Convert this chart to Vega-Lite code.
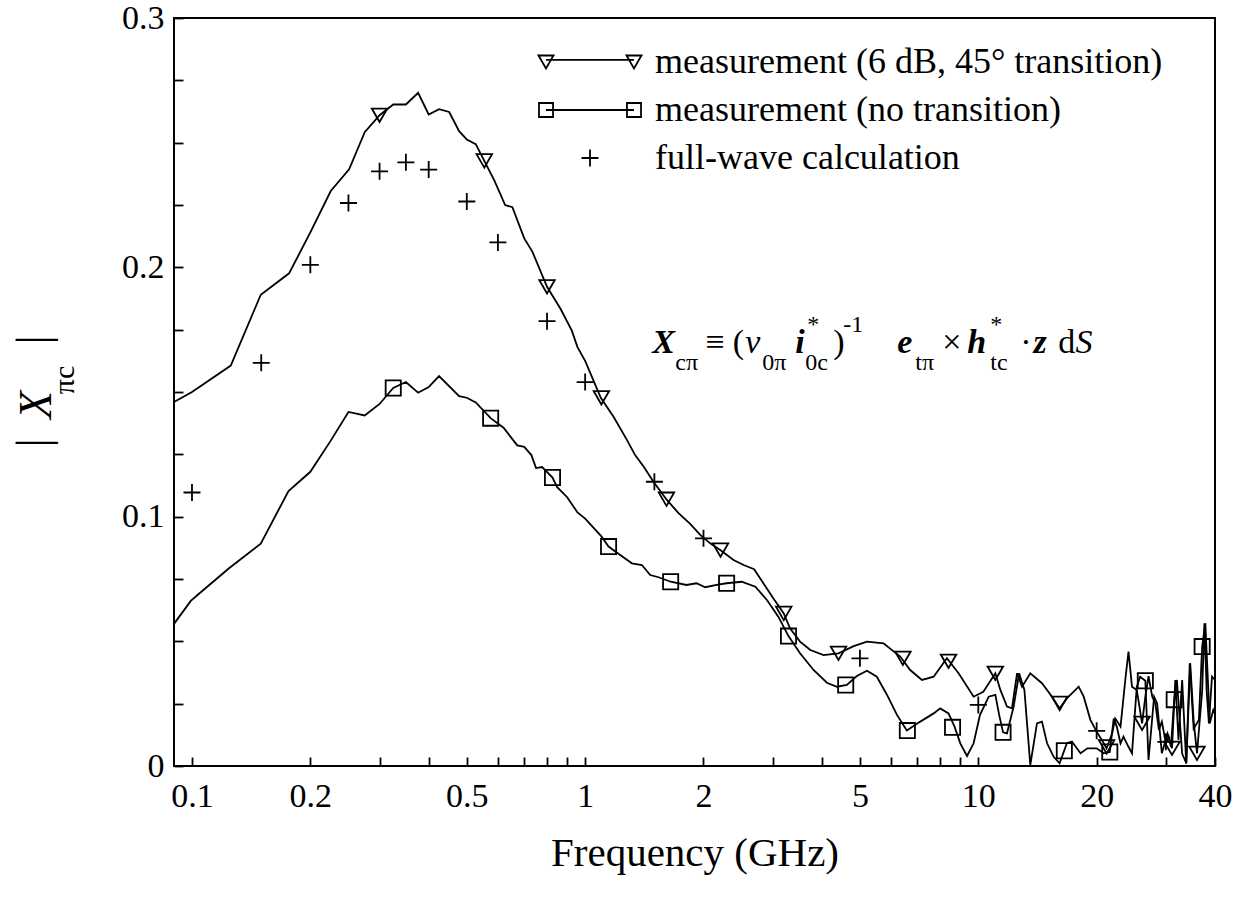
{
  "$schema": "https://vega.github.io/schema/vega-lite/v6.json",
  "width": 1041,
  "height": 748,
  "autosize": "none",
  "padding": {"left": 174, "top": 18, "right": 31, "bottom": 137},
  "background": "white",
  "config": {"view": {"stroke": "black", "strokeWidth": 2}, "font": "Liberation Serif, Times New Roman, DejaVu Serif, serif"},
  "datasets": {
    "curves": [
      {"s":"T","f":0.09,"v":0.146},{"s":"T","f":0.1,"v":0.150},{"s":"T","f":0.1255,"v":0.1606},{"s":"T","f":0.1496,"v":0.189},{"s":"T","f":0.1766,"v":0.1976},{"s":"T","f":0.2,"v":0.214},{"s":"T","f":0.2254,"v":0.2306},{"s":"T","f":0.251,"v":0.2393},{"s":"T","f":0.275,"v":0.2542},{"s":"T","f":0.3,"v":0.261},{"s":"T","f":0.325,"v":0.2653},{"s":"T","f":0.35,"v":0.2653},{"s":"T","f":0.376,"v":0.270},{"s":"T","f":0.4,"v":0.2613},{"s":"T","f":0.425,"v":0.2634},{"s":"T","f":0.451,"v":0.2623},{"s":"T","f":0.478,"v":0.2546},{"s":"T","f":0.5,"v":0.2513},{"s":"T","f":0.527,"v":0.2494},{"s":"T","f":0.554,"v":0.2427},{"s":"T","f":0.587,"v":0.235},{"s":"T","f":0.626,"v":0.225},{"s":"T","f":0.653,"v":0.2241},{"s":"T","f":0.7,"v":0.2116},{"s":"T","f":0.734,"v":0.2063},{"s":"T","f":0.8,"v":0.1922},{"s":"T","f":0.867,"v":0.1832},{"s":"T","f":0.925,"v":0.1746},{"s":"T","f":0.956,"v":0.168},{"s":"T","f":1.0,"v":0.1625},{"s":"T","f":1.096,"v":0.1477},{"s":"T","f":1.181,"v":0.1401},{"s":"T","f":1.277,"v":0.1308},{"s":"T","f":1.34,"v":0.1247},{"s":"T","f":1.408,"v":0.1201},{"s":"T","f":1.492,"v":0.114},{"s":"T","f":1.614,"v":0.1067},{"s":"T","f":1.728,"v":0.1014},{"s":"T","f":1.85,"v":0.0971},{"s":"T","f":1.962,"v":0.0927},{"s":"T","f":2.08,"v":0.0893},{"s":"T","f":2.206,"v":0.0866},{"s":"T","f":2.385,"v":0.0826},{"s":"T","f":2.53,"v":0.0806},{"s":"T","f":2.69,"v":0.0789},{"s":"T","f":2.84,"v":0.0733},{"s":"T","f":3.01,"v":0.0673},{"s":"T","f":3.2,"v":0.0612},{"s":"T","f":3.32,"v":0.0552},{"s":"T","f":3.52,"v":0.0499},{"s":"T","f":3.74,"v":0.0465},{"s":"T","f":4.04,"v":0.0445},{"s":"T","f":4.41,"v":0.0452},{"s":"T","f":4.82,"v":0.0481},{"s":"T","f":5.21,"v":0.0499},{"s":"T","f":5.74,"v":0.0492},{"s":"T","f":6.33,"v":0.0439},{"s":"T","f":6.71,"v":0.0385},{"s":"T","f":7.19,"v":0.0345},{"s":"T","f":7.7,"v":0.0358},{"s":"T","f":8.32,"v":0.0432},{"s":"T","f":8.91,"v":0.0372},{"s":"T","f":9.73,"v":0.0278},{"s":"T","f":10.3,"v":0.0298},{"s":"T","f":11.05,"v":0.0372},{"s":"T","f":11.38,"v":0.0305},{"s":"T","f":11.83,"v":0.0238},{"s":"T","f":12.18,"v":0.0231},{"s":"T","f":12.55,"v":0.0372},{"s":"T","f":12.92,"v":0.0318},{"s":"T","f":13.56,"v":0.0372},{"s":"T","f":14.52,"v":0.0332},{"s":"T","f":15.4,"v":0.0278},{"s":"T","f":16.1,"v":0.0231},{"s":"T","f":16.8,"v":0.0271},{"s":"T","f":18.0,"v":0.0318},{"s":"T","f":18.54,"v":0.0278},{"s":"T","f":19.28,"v":0.0185},{"s":"T","f":20.0,"v":0.0138},{"s":"T","f":20.85,"v":0.0091},{"s":"T","f":21.2,"v":0.0071},{"s":"T","f":21.9,"v":0.0131},{"s":"T","f":22.3,"v":0.019},{"s":"T","f":23.0,"v":0.0158},{"s":"T","f":23.7,"v":0.0358},{"s":"T","f":24.1,"v":0.0459},{"s":"T","f":24.6,"v":0.0318},{"s":"T","f":25.3,"v":0.0305},{"s":"T","f":26.1,"v":0.0171},{"s":"T","f":26.6,"v":0.0278},{"s":"T","f":27.1,"v":0.036},{"s":"T","f":27.7,"v":0.0278},{"s":"T","f":28.2,"v":0.0251},{"s":"T","f":28.8,"v":0.0145},{"s":"T","f":29.3,"v":0.0178},{"s":"T","f":30.0,"v":0.0091},{"s":"T","f":30.5,"v":0.0118},{"s":"T","f":31.1,"v":0.0071},{"s":"T","f":31.7,"v":0.0345},{"s":"T","f":32.3,"v":0.0104},{"s":"T","f":33.0,"v":0.0345},{"s":"T","f":33.8,"v":0.001},{"s":"T","f":34.6,"v":0.0412},{"s":"T","f":35.3,"v":0.018},{"s":"T","f":36.0,"v":0.0051},{"s":"T","f":37.1,"v":0.03},{"s":"T","f":37.6,"v":0.0572},{"s":"T","f":38.1,"v":0.03},{"s":"T","f":38.6,"v":0.0171},{"s":"T","f":39.3,"v":0.0358},{"s":"T","f":40,"v":0.0345},
      {"s":"S","f":0.09,"v":0.057},{"s":"S","f":0.0993,"v":0.0662},{"s":"S","f":0.104,"v":0.069},{"s":"S","f":0.124,"v":0.0792},{"s":"S","f":0.1496,"v":0.0892},{"s":"S","f":0.176,"v":0.1103},{"s":"S","f":0.2,"v":0.118},{"s":"S","f":0.2254,"v":0.1305},{"s":"S","f":0.25,"v":0.142},{"s":"S","f":0.275,"v":0.1406},{"s":"S","f":0.3,"v":0.1452},{"s":"S","f":0.325,"v":0.1516},{"s":"S","f":0.35,"v":0.154},{"s":"S","f":0.376,"v":0.1497},{"s":"S","f":0.4,"v":0.152},{"s":"S","f":0.425,"v":0.1564},{"s":"S","f":0.478,"v":0.1483},{"s":"S","f":0.5,"v":0.1477},{"s":"S","f":0.527,"v":0.1458},{"s":"S","f":0.575,"v":0.1395},{"s":"S","f":0.62,"v":0.1357},{"s":"S","f":0.672,"v":0.1286},{"s":"S","f":0.7,"v":0.128},{"s":"S","f":0.73,"v":0.1247},{"s":"S","f":0.75,"v":0.1195},{"s":"S","f":0.777,"v":0.1199},{"s":"S","f":0.826,"v":0.1157},{"s":"S","f":0.848,"v":0.1119},{"s":"S","f":0.9,"v":0.1078},{"s":"S","f":0.956,"v":0.1017},{"s":"S","f":1.0,"v":0.0992},{"s":"S","f":1.1,"v":0.0921},{"s":"S","f":1.147,"v":0.088},{"s":"S","f":1.228,"v":0.0846},{"s":"S","f":1.315,"v":0.0813},{"s":"S","f":1.394,"v":0.0806},{"s":"S","f":1.464,"v":0.0766},{"s":"S","f":1.537,"v":0.0757},{"s":"S","f":1.65,"v":0.0739},{"s":"S","f":1.81,"v":0.0726},{"s":"S","f":1.92,"v":0.0733},{"s":"S","f":2.02,"v":0.0717},{"s":"S","f":2.16,"v":0.0726},{"s":"S","f":2.29,"v":0.0733},{"s":"S","f":2.5,"v":0.0739},{"s":"S","f":2.71,"v":0.0719},{"s":"S","f":2.9,"v":0.0666},{"s":"S","f":3.1,"v":0.0599},{"s":"S","f":3.29,"v":0.0521},{"s":"S","f":3.52,"v":0.0452},{"s":"S","f":3.81,"v":0.0385},{"s":"S","f":4.12,"v":0.0334},{"s":"S","f":4.37,"v":0.0318},{"s":"S","f":4.63,"v":0.0325},{"s":"S","f":4.91,"v":0.0361},{"s":"S","f":5.21,"v":0.0382},{"s":"S","f":5.52,"v":0.0358},{"s":"S","f":5.86,"v":0.0285},{"s":"S","f":6.21,"v":0.0205},{"s":"S","f":6.58,"v":0.0142},{"s":"S","f":7.12,"v":0.0178},{"s":"S","f":7.7,"v":0.0211},{"s":"S","f":8.0,"v":0.0231},{"s":"S","f":8.4,"v":0.0211},{"s":"S","f":8.7,"v":0.0158},{"s":"S","f":9.0,"v":0.0091},{"s":"S","f":9.36,"v":0.004},{"s":"S","f":9.73,"v":0.0091},{"s":"S","f":10.1,"v":0.0205},{"s":"S","f":10.63,"v":0.0278},{"s":"S","f":11.05,"v":0.0285},{"s":"S","f":11.3,"v":0.0205},{"s":"S","f":11.56,"v":0.0135},{"s":"S","f":11.83,"v":0.0131},{"s":"S","f":12.3,"v":0.0238},{"s":"S","f":12.7,"v":0.0372},{"s":"S","f":13.1,"v":0.0305},{"s":"S","f":13.56,"v":0.0004},{"s":"S","f":14.1,"v":0.0171},{"s":"S","f":14.52,"v":0.0178},{"s":"S","f":14.96,"v":0.0091},{"s":"S","f":15.55,"v":0.0037},{"s":"S","f":16.1,"v":0.0011},{"s":"S","f":16.8,"v":0.0091},{"s":"S","f":17.3,"v":0.0098},{"s":"S","f":18.2,"v":0.0051},{"s":"S","f":18.95,"v":0.0071},{"s":"S","f":20.0,"v":0.0071},{"s":"S","f":20.85,"v":0.0051},{"s":"S","f":21.6,"v":0.0056},{"s":"S","f":22.1,"v":0.019},{"s":"S","f":22.5,"v":0.0158},{"s":"S","f":23.0,"v":0.0091},{"s":"S","f":23.4,"v":0.0118},{"s":"S","f":24.1,"v":0.0077},{"s":"S","f":24.6,"v":0.0051},{"s":"S","f":25.3,"v":0.0318},{"s":"S","f":25.8,"v":0.0358},{"s":"S","f":26.6,"v":0.0342},{"s":"S","f":27.1,"v":0.0024},{"s":"S","f":28.0,"v":0.0278},{"s":"S","f":28.5,"v":0.0251},{"s":"S","f":29.3,"v":0.0051},{"s":"S","f":30.3,"v":0.013},{"s":"S","f":30.9,"v":0.0077},{"s":"S","f":31.5,"v":0.0266},{"s":"S","f":32.0,"v":0.0345},{"s":"S","f":33.0,"v":0.005},{"s":"S","f":33.8,"v":0.0011},{"s":"S","f":34.5,"v":0.0412},{"s":"S","f":35.3,"v":0.015},{"s":"S","f":36.4,"v":0.0185},{"s":"S","f":37.1,"v":0.0479},{"s":"S","f":37.8,"v":0.0572},{"s":"S","f":38.8,"v":0.0171},{"s":"S","f":39.6,"v":0.0225},{"s":"S","f":40,"v":0.021}
    ],
    "markers": [
      {"s":"T","f":0.3,"v":0.261},{"s":"T","f":0.554,"v":0.2427},{"s":"T","f":0.8,"v":0.1922},{"s":"T","f":1.1,"v":0.1477},{"s":"T","f":1.61,"v":0.107},{"s":"T","f":2.21,"v":0.0866},{"s":"T","f":3.2,"v":0.0612},{"s":"T","f":4.41,"v":0.0452},{"s":"T","f":6.43,"v":0.0432},{"s":"T","f":8.4,"v":0.042},{"s":"T","f":11.05,"v":0.0372},{"s":"T","f":16.1,"v":0.0251},{"s":"T","f":21.2,"v":0.0077},{"s":"T","f":26.1,"v":0.0171},{"s":"T","f":31.1,"v":0.0071},{"s":"T","f":36.0,"v":0.0051},
      {"s":"S","f":0.325,"v":0.1516},{"s":"S","f":0.575,"v":0.1395},{"s":"S","f":0.826,"v":0.1157},{"s":"S","f":1.147,"v":0.088},{"s":"S","f":1.65,"v":0.0739},{"s":"S","f":2.29,"v":0.0733},{"s":"S","f":3.29,"v":0.0521},{"s":"S","f":4.6,"v":0.0325},{"s":"S","f":6.6,"v":0.0142},{"s":"S","f":8.6,"v":0.0155},{"s":"S","f":11.56,"v":0.0135},{"s":"S","f":16.55,"v":0.0061},{"s":"S","f":21.6,"v":0.0056},{"s":"S","f":26.6,"v":0.0342},{"s":"S","f":31.5,"v":0.0266},{"s":"S","f":37.1,"v":0.0479},
      {"s":"C","f":0.1,"v":0.1097},{"s":"C","f":0.15,"v":0.1617},{"s":"C","f":0.2,"v":0.201},{"s":"C","f":0.25,"v":0.2258},{"s":"C","f":0.3,"v":0.2385},{"s":"C","f":0.35,"v":0.2421},{"s":"C","f":0.4,"v":0.2392},{"s":"C","f":0.5,"v":0.2264},{"s":"C","f":0.6,"v":0.210},{"s":"C","f":0.8,"v":0.1784},{"s":"C","f":1.0,"v":0.154},{"s":"C","f":1.5,"v":0.114},{"s":"C","f":2.0,"v":0.0913},{"s":"C","f":5.0,"v":0.0432},{"s":"C","f":10,"v":0.0245},{"s":"C","f":20,"v":0.0141},{"s":"C","f":30,"v":0.0097}
    ],
    "eqUpright": [{"t":"≡ (","f":2.02,"v":0.1657},{"t":")","f":4.277,"v":0.1657},{"t":"×","f":8.1,"v":0.1657},{"t":"·","f":12.79,"v":0.1657},{"t":"d","f":15.98,"v":0.1657}],
    "eqItalic": [{"t":"v","f":2.554,"v":0.1657},{"t":"S","f":17.66,"v":0.1657}],
    "eqBoldItalic": [{"t":"X","f":1.481,"v":0.1657},{"t":"i","f":3.424,"v":0.1657},{"t":"e","f":6.223,"v":0.1657},{"t":"h","f":9.38,"v":0.1657},{"t":"z","f":13.81,"v":0.1657}],
    "eqSub": [{"t":"cπ","f":1.695,"v":0.1589},{"t":"0π","f":2.821,"v":0.1589},{"t":"0c","f":3.629,"v":0.1589},{"t":"tπ","f":6.917,"v":0.1589},{"t":"tc","f":10.73,"v":0.1589}],
    "eqSup": [{"t":"*","f":3.672,"v":0.1742},{"t":"-1","f":4.535,"v":0.1742},{"t":"*","f":10.73,"v":0.1742}],
    "ytBars": [{"t":"|","f":0.03963,"v":0.12956},{"t":"|","f":0.03963,"v":0.17088}],
    "ytX": [{"t":"X","f":0.04045,"v":0.1448}],
    "ytSub": [{"t":"πc","f":0.04752,"v":0.15483}]
  },
  "encoding": {
    "x": {
      "field": "f", "type": "quantitative",
      "scale": {"type": "log", "domain": [0.09, 40], "nice": false},
      "axis": {
        "values": [0.1,0.2,0.3,0.4,0.5,0.6,0.7,0.8,0.9,1,2,3,4,5,6,7,8,9,10,20,30,40],
        "labelExpr": "indexof([0.1,0.2,0.5,1,2,5,10,20,40], datum.value) >= 0 ? format(datum.value, '~g') : ''",
        "labelOverlap": false, "labelFlush": false,
        "labelFont": "Liberation Serif, Times New Roman, DejaVu Serif, serif", "labelFontSize": 34, "labelColor": "black", "labelPadding": 22,
        "ticks": true, "tickSize": -9, "tickColor": "black", "tickWidth": 1.8, "tickOpacity": 1,
        "domain": false, "grid": false,
        "title": "Frequency (GHz)", "titleFont": "Liberation Serif, Times New Roman, DejaVu Serif, serif", "titleFontSize": 41, "titleFontWeight": "normal", "titleColor": "black", "titlePadding": 20,
        "encode": {"ticks": {"y2": {"condition": {"test": "indexof([0.1,0.2,0.5,1,2,5,10,20,40], datum.value) >= 0", "value": -14}, "value": -9}}}
      }
    },
    "y": {
      "field": "v", "type": "quantitative",
      "scale": {"domain": [0, 0.3], "nice": false},
      "axis": {
        "values": [0,0.025,0.05,0.075,0.1,0.125,0.15,0.175,0.2,0.225,0.25,0.275,0.3],
        "labelExpr": "indexof([0,0.1,0.2,0.3], datum.value) >= 0 ? format(datum.value, '~g') : ''",
        "labelOverlap": false, "labelFlush": false,
        "labelFont": "Liberation Serif, Times New Roman, DejaVu Serif, serif", "labelFontSize": 34, "labelColor": "black", "labelPadding": 19,
        "ticks": true, "tickSize": -9, "tickColor": "black", "tickWidth": 1.8, "tickOpacity": 1,
        "domain": false, "grid": false, "title": null,
        "encode": {"ticks": {"x2": {"condition": {"test": "indexof([0,0.1,0.2,0.3], datum.value) >= 0", "value": 14}, "value": 9}}}
      }
    }
  },
  "layer": [
    {
      "data": {"name": "curves"},
      "mark": {"type": "line", "color": "black", "strokeWidth": 1.8},
      "encoding": {"detail": {"field": "s"}}
    },
    {
      "data": {"name": "markers"},
      "transform": [{"filter": "datum.s == 'T'"}],
      "mark": {"type": "point", "shape": "triangle-down", "size": 240, "filled": false, "color": "black", "strokeWidth": 1.8, "opacity": 1}
    },
    {
      "data": {"name": "markers"},
      "transform": [{"filter": "datum.s == 'S'"}],
      "mark": {"type": "point", "shape": "square", "size": 230, "filled": false, "color": "black", "strokeWidth": 1.8, "opacity": 1}
    },
    {
      "data": {"name": "markers"},
      "transform": [{"filter": "datum.s == 'C'"}],
      "mark": {"type": "point", "shape": "M-1,0L1,0M0,-1L0,1", "size": 289, "filled": false, "color": "black", "strokeWidth": 1.8, "opacity": 1}
    },
    {
      "data": {"values": []},
      "mark": {"type": "point", "filled": false, "color": "black", "strokeWidth": 1.8},
      "encoding": {
        "shape": {
          "field": "series", "type": "nominal",
          "scale": {
            "domain": ["measurement (6 dB, 45° transition)", "measurement (no transition)", "full-wave calculation"],
            "range": [
              "M-0.99,-0.125L-0.702,-0.125L-0.846,0.125ZM0.702,-0.125L0.99,-0.125L0.846,0.125ZM-0.846,-0.04L0.846,-0.04",
              "M-0.981,-0.135L-0.711,-0.135L-0.711,0.135L-0.981,0.135ZM0.711,-0.135L0.981,-0.135L0.981,0.135L0.711,0.135ZM-0.846,0L0.846,0",
              "M-0.163,0L0.163,0M0,-0.163L0,0.163"
            ]
          },
          "legend": {
            "orient": "none", "legendX": 363, "legendY": 21, "padding": 0,
            "title": null, "clipHeight": 46, "rowPadding": 2,
            "symbolSize": 10816, "symbolStrokeWidth": 1.8, "symbolStrokeColor": "black", "symbolFillColor": "transparent", "symbolOpacity": 1, "symbolOffset": 0,
            "labelFont": "Liberation Serif, Times New Roman, DejaVu Serif, serif", "labelFontSize": 36, "labelColor": "black", "labelOffset": 12, "labelLimit": 0
          }
        }
      }
    },
    {
      "data": {"name": "eqUpright"},
      "mark": {"type": "text", "align": "left", "baseline": "alphabetic", "font": "Liberation Serif, Times New Roman, DejaVu Serif, serif", "fontSize": 34, "color": "black"},
      "encoding": {"text": {"field": "t"}}
    },
    {
      "data": {"name": "eqItalic"},
      "mark": {"type": "text", "align": "left", "baseline": "alphabetic", "font": "Liberation Serif, Times New Roman, DejaVu Serif, serif", "fontSize": 34, "fontStyle": "italic", "color": "black"},
      "encoding": {"text": {"field": "t"}}
    },
    {
      "data": {"name": "eqBoldItalic"},
      "mark": {"type": "text", "align": "left", "baseline": "alphabetic", "font": "Liberation Serif, Times New Roman, DejaVu Serif, serif", "fontSize": 34, "fontStyle": "italic", "fontWeight": "bold", "color": "black"},
      "encoding": {"text": {"field": "t"}}
    },
    {
      "data": {"name": "eqSub"},
      "mark": {"type": "text", "align": "left", "baseline": "alphabetic", "font": "Liberation Serif, Times New Roman, DejaVu Serif, serif", "fontSize": 24, "color": "black"},
      "encoding": {"text": {"field": "t"}}
    },
    {
      "data": {"name": "eqSup"},
      "mark": {"type": "text", "align": "left", "baseline": "alphabetic", "font": "Liberation Serif, Times New Roman, DejaVu Serif, serif", "fontSize": 24, "color": "black"},
      "encoding": {"text": {"field": "t"}}
    },
    {
      "data": {"name": "ytBars"},
      "mark": {"type": "text", "align": "center", "baseline": "middle", "angle": 270, "font": "Liberation Serif, Times New Roman, DejaVu Serif, serif", "fontSize": 46, "color": "black"},
      "encoding": {"text": {"field": "t"}}
    },
    {
      "data": {"name": "ytX"},
      "mark": {"type": "text", "align": "center", "baseline": "middle", "angle": 270, "font": "Liberation Serif, Times New Roman, DejaVu Serif, serif", "fontSize": 46, "fontStyle": "italic", "color": "black"},
      "encoding": {"text": {"field": "t"}}
    },
    {
      "data": {"name": "ytSub"},
      "mark": {"type": "text", "align": "center", "baseline": "middle", "angle": 270, "font": "Liberation Serif, Times New Roman, DejaVu Serif, serif", "fontSize": 30, "color": "black"},
      "encoding": {"text": {"field": "t"}}
    }
  ]
}
